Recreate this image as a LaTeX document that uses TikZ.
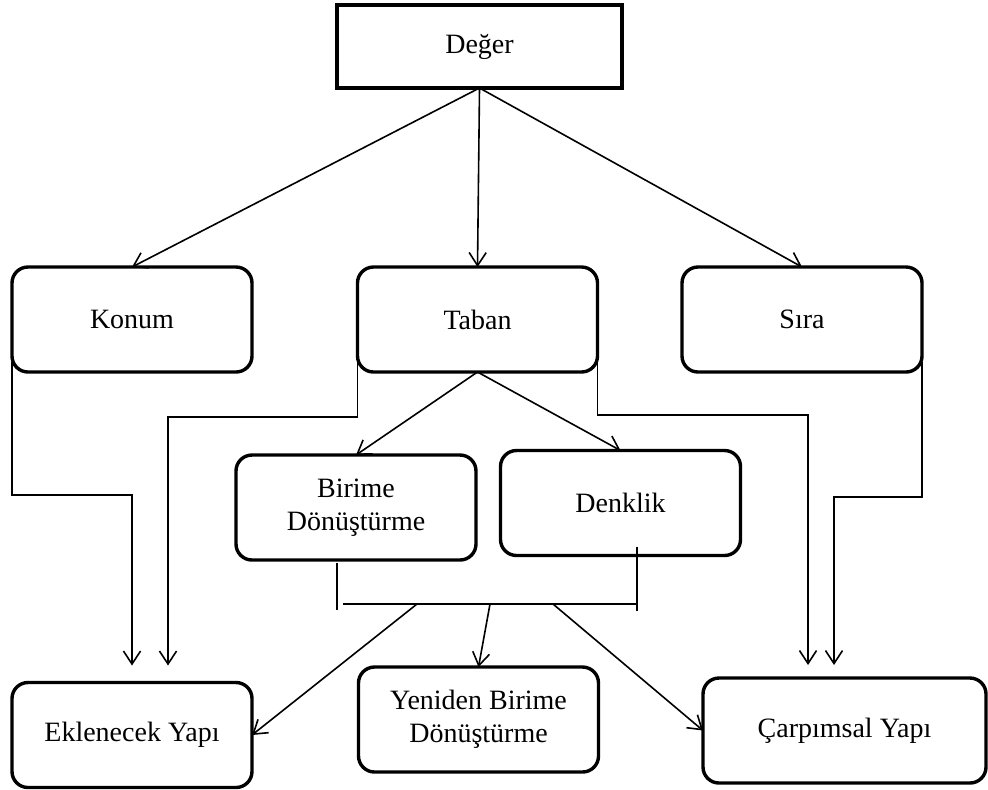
\documentclass[tikz,border=0pt]{standalone}
\usepackage{fontspec}
\setmainfont{Liberation Serif}
\usepackage{tikz}
\usetikzlibrary{positioning,calc,arrows.meta}

\begin{document}
\begin{tikzpicture}[x=0.5pt,y=-0.5pt,
  box/.style={draw,line width=1.7pt,rounded corners=8pt,minimum width=120pt,minimum height=52.5pt,align=center,inner sep=0pt,outer sep=0pt,font=\fontsize{14}{16.5}\selectfont},
  topbox/.style={draw,line width=2pt,minimum width=142.5pt,minimum height=41.5pt,inner sep=0pt,outer sep=0pt,font=\fontsize{14}{16.5}\selectfont},
  link/.style={line width=0.8pt},
  arr/.style={link,-{Straight Barb[length=6.5pt,width=8.5pt,line width=0.8pt]}}]
\useasboundingbox (0,0) rectangle (988,789);
\node(deger)    [topbox] at (479.5,46.5)  {Değer};
\node(konum)    [box] at (132,319.5)      {Konum};
\node(taban)    [box] at (477.5,319.5)    {Taban};
\node(sira)     [box] at (802,319.5)      {Sıra};
\node(birime)   [box] at (356,507.5)      {Birime\\Dönüştürme};
\node(denklik)  [box] at (620.5,503)      {Denklik};
\node(ekle)     [box] at (132,735)        {Eklenecek Yapı};
\node(yeniden)  [box] at (478.5,719.5)    {Yeniden Birime\\Dönüştürme};
\node(carpim)   [box,minimum width=141.5pt] at (844.5,730.5) {Çarpımsal Yapı};
\foreach \x in {konum,taban,sira} {
\draw[arr] (deger.south) -- (\x.north);
}
\foreach \x in {birime,denklik} {
\draw[arr] (taban.south) -- (\x.north);
}
% elbow links down to the bottom row
\draw[arr] ([yshift=5pt]konum.south west) -- ++(0,133) -| ([yshift=8.5pt]ekle.north);
\draw[arr] ([yshift=5pt]taban.south west) -- ++(0,55) -| ([xshift=18pt,yshift=8.5pt]ekle.north);
\draw[arr] ([yshift=5pt]taban.south east) -- ++(0,53) -| ([xshift=-18.25pt,yshift=6.5pt]carpim.north);
\draw[arr] ([yshift=5pt]sira.south east) -- ++(0,135) -| ([xshift=-5.25pt,yshift=6.5pt]carpim.north);
% bracket under the middle pair
\coordinate (barL)   at (343,604);
\coordinate (barR)   at (637,604);
\coordinate (splitA) at (417,604);
\coordinate (splitB) at (490,604);
\coordinate (splitC) at (553,604);
\draw[link] ([xshift=-9.5pt,yshift=-1.5pt]birime.south) -- ++(0,47);
\draw[link] ([xshift=8.25pt,yshift=4.5pt]denklik.south) -- ++(0,64);
\draw[link] (barL) -- (barR);
\draw[arr] (splitA) -- (ekle.east);
\draw[arr] (splitB) -- (yeniden.north);
\draw[arr] (splitC) -- (carpim.west);
\end{tikzpicture}
\end{document}
